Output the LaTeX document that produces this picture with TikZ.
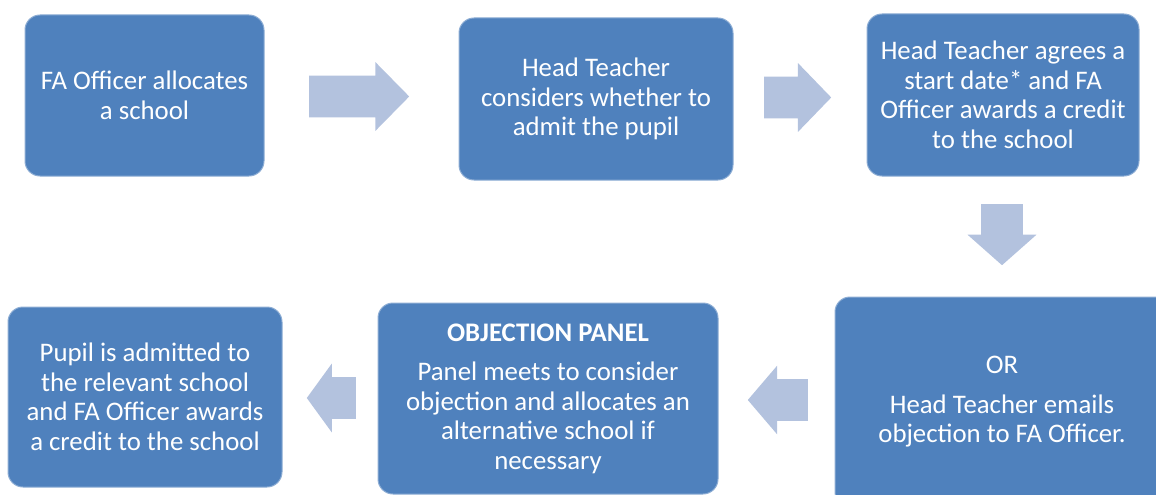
\documentclass[tikz,border=0pt]{standalone}
\usepackage{fontspec}
\setmainfont{Carlito}
\usetikzlibrary{shapes.arrows,positioning}
\definecolor{boxblue}{HTML}{4F81BD}
\definecolor{arrowblue}{HTML}{B3C2DE}

\begin{document}
\begin{tikzpicture}[x=1pt, y=-1pt,
      box/.style={draw=boxblue!65!white, line width=1pt, fill=boxblue, rounded corners=15pt,
        align=center, text=white, inner sep=0pt, font=\fontsize{26.8}{29.5}\selectfont},
      blk/.style={single arrow, fill=arrowblue, draw=none, inner xsep=0pt, inner ysep=20.75pt,
        anchor=tail, single arrow head extend=13.5pt},
      blkdown/.style={blk, inner xsep=20.75pt, inner ysep=0pt, shape border rotate=270}]
    \useasboundingbox (0,0) rectangle (1156,495);
    \clip (0,0) rectangle (1156,495);
    % top row
    \node[box, minimum width=239pt, minimum height=161pt] (alloc) at (144.5,95.5)
      {FA Officer allocates\\a school};
    \node[box, minimum width=274pt, minimum height=162pt] (consider) at (596,99)
      {Head Teacher\\considers whether to\\admit the pupil};
    \node[box, minimum width=272pt, minimum height=162pt] (agree) at (1003,95)
      {Head Teacher agrees a\\start date* and FA\\Officer awards a credit\\to the school};
    % bottom row
    \node[box, minimum width=334pt, minimum height=210pt] (object) at (1002,402)
      {OR\\[10pt]Head Teacher emails\\objection to FA Officer.};
    \node[box, minimum width=340pt, minimum height=191pt] (panel) at (548,398.5)
      {\textbf{OBJECTION PANEL}\\[10pt]Panel meets to consider\\objection and allocates an\\alternative school if\\necessary};
    \node[box, minimum width=274pt, minimum height=180pt] (admit) at (145,397)
      {Pupil is admitted to\\the relevant school\\and FA Officer awards\\a credit to the school};
    % block arrows
    \node[blk, minimum height=100pt, single arrow tip angle=91] (toConsider) at (309,96.5) {};
    \node[blk, minimum height=67pt, single arrow tip angle=92] (toAgree) at (764,97.5) {};
    \node[blkdown, minimum height=61pt, single arrow tip angle=97] (toObject) at (1002,204) {};
    \node[blk, minimum height=60pt, single arrow tip angle=99, shape border rotate=180] (toPanel) at (808,400) {};
    \node[blk, minimum height=49pt, single arrow tip angle=108, shape border rotate=180] (toAdmit) at (356,398) {};
\end{tikzpicture}
\end{document}
